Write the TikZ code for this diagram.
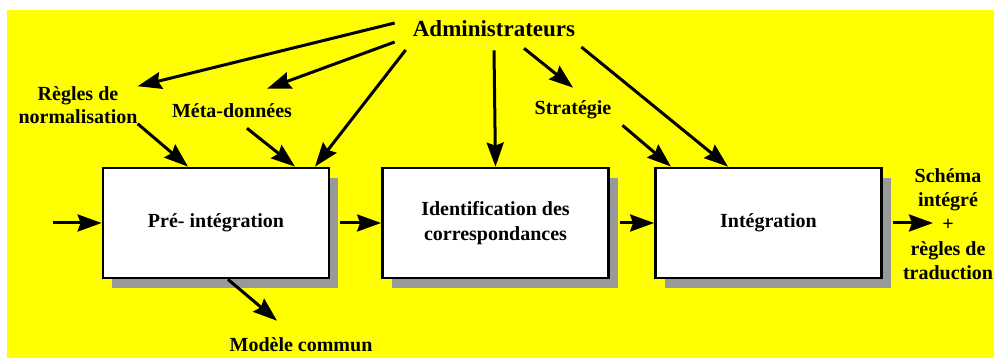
\documentclass[tikz,border=0pt]{standalone}
\usepackage{fontspec}
\setmainfont{Liberation Serif}
\usepackage{tikz}
\usetikzlibrary{arrows.meta}
\usetikzlibrary{shadows}
\definecolor{fond}{RGB}{255,255,0}
\definecolor{ombre}{RGB}{153,153,153}
\tikzset{
   flow/.style={draw=black, line width=3pt,
      -{Stealth[length=24pt,width=17pt,inset=3pt]}},
   etape/.style={draw=black, line width=2.8pt, fill=white,
      minimum width=226pt, minimum height=110pt, inner sep=0pt,
      font=\fontsize{20}{25}\selectfont\bfseries, align=center,
      drop shadow={shadow xshift=9pt, shadow yshift=-10pt, fill=ombre, opacity=1}},
   libelle/.style={font=\fontsize{20}{23}\selectfont\bfseries,
      align=center, inner sep=0pt},
    }

\begin{document}
\begin{tikzpicture}[x=1pt,y=-1pt]
    \useasboundingbox (0,0) rectangle (994,358);
    \fill[white] (0,0) rectangle (994,358);
    \fill[fond] (7,10) rectangle (994,358);
    \node[libelle, font=\fontsize{23}{27}\selectfont\bfseries] (admin) at (494,29) {Administrateurs};
    \node[libelle] (regles) at (78,105) {Règles de\\normalisation};
    \node[libelle] (meta) at (232,111) {Méta-données};
    \node[libelle] (strat) at (573,110) {Stratégie};
    \node[libelle] (modele) at (301,345) {Modèle commun};
    \node[libelle, font=\fontsize{20}{24.2}\selectfont\bfseries] (sortie) at (948,224)
        {Schéma\\intégré\\+\\règles de\\traduction};
    \node[etape] (pre) at (216,223) {Pré- intégration};
    \node[etape] (ident) at (495.5,223) {Identification des\\correspondances};
    \node[etape] (integ) at (768.5,223) {Intégration};
    \coordinate (entree) at (53,223);
    \coordinate (fin) at (933,223);
    \draw[flow] ([xshift=-18pt,yshift=6pt]admin.west) -- (regles.north east);
    \draw[flow] ([xshift=-18pt,yshift=-13pt]admin.west) -- ([xshift=35pt,yshift=15pt]meta.north);
    \draw[flow] ([xshift=-7pt,yshift=-21pt]admin.west) -- ([xshift=99pt]pre.north);
    \draw[flow] ([yshift=-13pt]admin.south) -- (ident.north);
    \draw[flow] ([xshift=30pt,yshift=-11pt]admin.south) -- ([yshift=13pt]strat.north);
    \draw[flow] ([xshift=6pt,yshift=-18pt]admin.east) -- ([xshift=-40.5pt]integ.north);
    \draw[flow] (regles.south east) -- ([xshift=-28pt]pre.north);
    \draw[flow] ([xshift=15pt,yshift=-10pt]meta.south) -- ([xshift=79pt]pre.north);
    \draw[flow] ([xshift=11pt,yshift=-6pt]strat.south east) -- ([xshift=-97.5pt]integ.north);
    \draw[flow] (entree) -- (pre.west);
    \draw[flow] ([xshift=10pt]pre.east) -- (ident.west);
    \draw[flow] ([xshift=10pt]ident.east) -- (integ.west);
    \draw[flow] ([xshift=10pt]integ.east) -- (fin);
    \draw[flow] ([xshift=12pt]pre.south) -- ([xshift=-24pt,yshift=17pt]modele.north);
\end{tikzpicture}
\end{document}
